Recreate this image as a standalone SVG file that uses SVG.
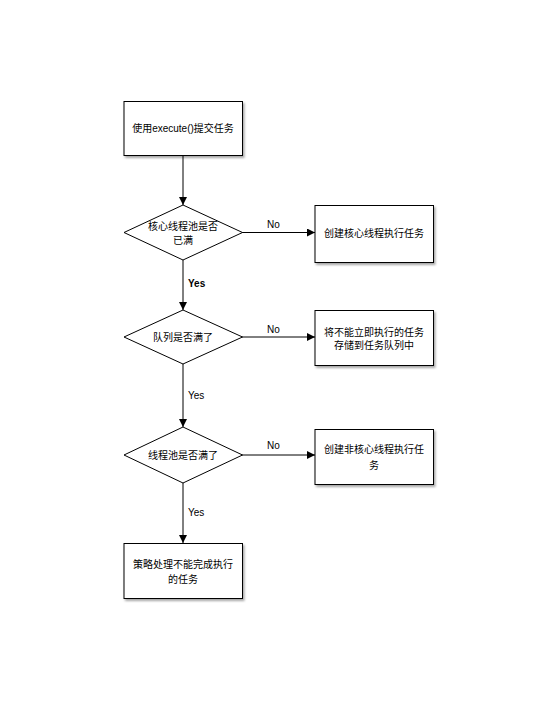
<svg xmlns="http://www.w3.org/2000/svg" width="540" height="720" viewBox="0 0 540 720">
<style>
.box{fill:#fff;stroke:#000;stroke-width:1}
.t{font-family:"Liberation Sans","Noto Sans CJK SC",sans-serif;font-size:10px;fill:#000;text-anchor:middle}
.lbl{font-family:"Liberation Sans","Noto Sans CJK SC",sans-serif;font-size:10px;fill:#000}
.c{stroke:#000;stroke-width:1;fill:none;marker-end:url(#ah)}
</style>
<defs>
<marker id="ah" markerWidth="8" markerHeight="8" refX="8" refY="4" orient="auto" markerUnits="userSpaceOnUse">
<path d="M0,0 L8,4 L0,8 Z" fill="#000"/>
</marker>
<filter id="sh" x="-10%" y="-10%" width="130%" height="140%">
<feDropShadow dx="1.5" dy="2" stdDeviation="1.2" flood-color="#000" flood-opacity="0.35"/>
</filter>
</defs>
<rect width="540" height="720" fill="#fff"/>
<g id="connectors">
<line class="c" x1="183" y1="156" x2="183" y2="205"/>
<line class="c" x1="183" y1="260" x2="183" y2="310"/>
<line class="c" x1="183" y1="364" x2="183" y2="427"/>
<line class="c" x1="183" y1="483" x2="183" y2="543"/>
<line class="c" x1="242" y1="232.5" x2="315" y2="232.5"/>
<line class="c" x1="242" y1="337" x2="315" y2="337"/>
<line class="c" x1="242" y1="455" x2="315" y2="455"/>
<text class="lbl" x="267" y="228">No</text>
<text class="lbl" x="267" y="333">No</text>
<text class="lbl" x="267" y="449">No</text>
<text class="lbl" x="188" y="287" font-weight="bold">Yes</text>
<text class="lbl" x="188" y="399">Yes</text>
<text class="lbl" x="188" y="516">Yes</text>
</g>
<g id="start">
<rect class="box" x="124" y="101.5" width="118.5" height="54" filter="url(#sh)"/>
<text class="t" x="183" y="132">使用execute()提交任务</text>
</g>
<g id="d1">
<polygon class="box" points="183,205 242.5,232.5 183,260 124,232.5"/>
<text class="t" x="183" y="230">核心线程池是否</text>
<text class="t" x="183" y="244">已满</text>
</g>
<g id="r1">
<rect class="box" x="315" y="205.5" width="118.5" height="57" filter="url(#sh)"/>
<text class="t" x="374" y="237">创建核心线程执行任务</text>
</g>
<g id="d2">
<polygon class="box" points="183,310 242.5,337 183,364 124,337"/>
<text class="t" x="183" y="341">队列是否满了</text>
</g>
<g id="r2">
<rect class="box" x="315" y="310.5" width="118.5" height="55" filter="url(#sh)"/>
<text class="t" x="374" y="336">将不能立即执行的任务</text>
<text class="t" x="374" y="349">存储到任务队列中</text>
</g>
<g id="d3">
<polygon class="box" points="183,427 242.5,455 183,483 124,455"/>
<text class="t" x="183" y="459">线程池是否满了</text>
</g>
<g id="r3">
<rect class="box" x="315" y="429.5" width="118.5" height="55" filter="url(#sh)"/>
<text class="t" x="374" y="453">创建非核心线程执行任</text>
<text class="t" x="374" y="469">务</text>
</g>
<g id="end">
<rect class="box" x="124" y="543.5" width="118.5" height="55" filter="url(#sh)"/>
<text class="t" x="183" y="568">策略处理不能完成执行</text>
<text class="t" x="183" y="583">的任务</text>
</g>
</svg>
